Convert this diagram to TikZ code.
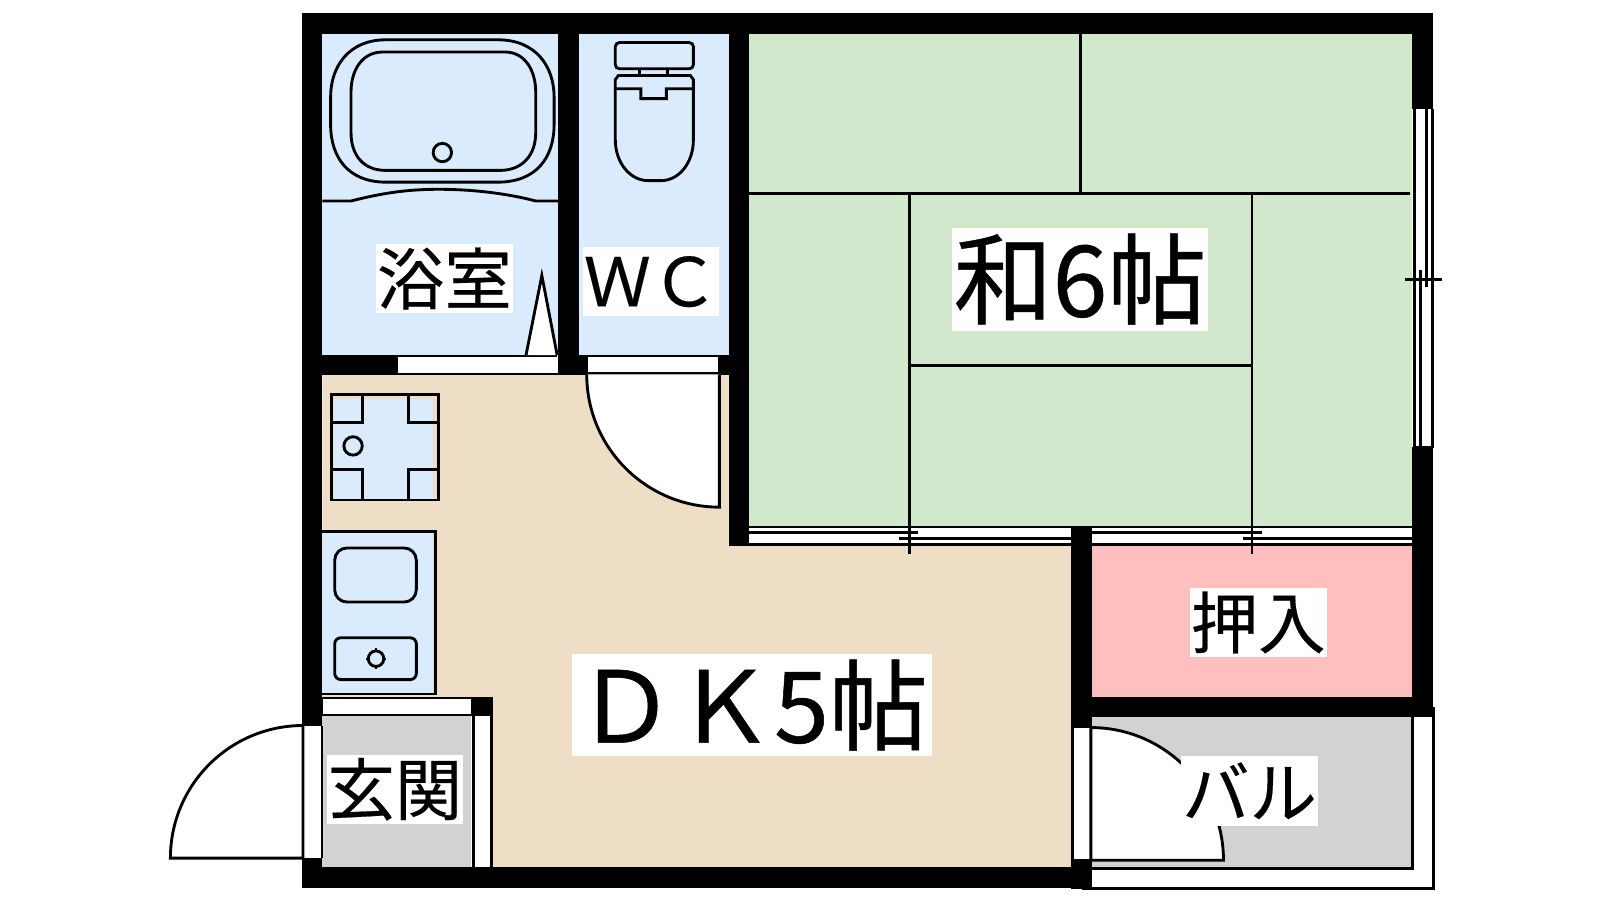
\documentclass[tikz,border=0pt]{standalone}
\usepackage{fontspec}
\setmainfont{Noto Sans CJK JP}
\newfontfamily\bigjp[FakeBold=0.5]{Noto Sans CJK JP}
\newfontfamily\smalljp[FakeBold=0.3]{Noto Sans CJK JP}
\tikzset{
  wall/.style={fill=black,draw=none},
  ln/.style={draw=black,line width=1.4pt},
  thin ln/.style={draw=black,line width=1pt},
  openw/.style={fill=white,draw=none},
  label big/.style={fill=white,inner sep=0pt,font=\bigjp\fontsize{48.5}{48.5}\selectfont},
  label small/.style={fill=white,inner sep=0pt,font=\smalljp\fontsize{33}{33}\selectfont},
}
\definecolor{bluef}{HTML}{DAEBFE}
\definecolor{greenf}{HTML}{D2E8CC}
\definecolor{tanf}{HTML}{EEDEC6}
\definecolor{pinkf}{HTML}{FFBFBF}
\definecolor{grayf}{HTML}{D2D2D2}
\begin{document}
\begin{tikzpicture}[x=0.5pt,y=-0.5pt]
\useasboundingbox (0,0) rectangle (1568,882);
\fill[white] (0,0) rectangle (1568,882);
% floors
\fill[bluef] (316,33) rectangle (547,348);
\fill[bluef] (567,33) rectangle (714,348);
\fill[greenf] (734,33) rectangle (1384,516);
\fill[tanf] (316,366) -- (714,366) -- (714,535) -- (1050,535) -- (1050,850) -- (316,850) -- cycle;
\fill[pinkf] (1070,535) rectangle (1384,683);
\fill[grayf] (1070,703) rectangle (1384,851);
\fill[grayf] (316,702) rectangle (462,850);
% tatami lines
\draw[ln] (734,190) -- (1382,190);
\draw[ln] (1059,33) -- (1059,190);
\draw[ln] (891,190) -- (891,543);
\draw[ln] (1227,190) -- (1227,543);
\draw[ln] (891,358) -- (1227,358);
% walls
\fill[wall] (296,13) rectangle (1404,33);
\fill[wall] (296,13) rectangle (316,870.5);
\fill[wall] (296,850) rectangle (1070,870.5);
\fill[wall] (547,33) rectangle (567,366);
\fill[wall] (714,33) rectangle (734,535);
\fill[wall] (316,348) rectangle (390,366);
\fill[wall] (547,348) rectangle (714,366);
\fill[wall] (1384,13) rectangle (1404,107);
\fill[wall] (1384,438) rectangle (1404,703);
\fill[wall] (1050,515) rectangle (1070,713);
\fill[wall] (1050,683) rectangle (1404,703);
\fill[wall] (1050,842) rectangle (1070,871);
% bath door opening
\fill[openw] (390,349.5) rectangle (546,365);
\draw[thin ln] (390,348.5) -- (546,348.5);
\draw[thin ln] (316,366.5) -- (576,366.5);
\draw[ln,fill=white] (515.5,348) -- (531,270) -- (546,348);
% wc door opening
\fill[openw] (576,349.5) rectangle (704,365);
\draw[thin ln] (576,366.5) -- (714,366.5);
% wc door
\draw[ln,fill=white] (575,367) .. controls (575,438.8) and (633.2,497) .. (705,497) -- (705,367);
% tub
\draw[ln] (378,39) -- (488,39) .. controls (525,39) and (543,65) .. (543,95) -- (543,122) .. controls (543,155) and (525,178.5) .. (488,178.5) -- (378,178.5) .. controls (342,178.5) and (324,155) .. (324,122) -- (324,95) .. controls (324,65) and (342,39) .. (378,39) -- cycle;
\draw[ln] (375,51) -- (495,51) .. controls (515,51) and (525,70) .. (525,90) -- (525,130) .. controls (525,152) and (512,167) .. (490,167) -- (378,167) .. controls (356,167) and (344,152) .. (344,130) -- (344,90) .. controls (344,70) and (354,51) .. (375,51) -- cycle;
\draw[ln] (433.5,149.5) circle[radius=4.5pt];
\draw[ln] (316,197) -- (344,197) .. controls (375,189) and (400,185.5) .. (430,185.5) .. controls (460,185.5) and (495,189) .. (525,197) -- (547,197);
% toilet
\draw[ln] (603,41.7) [rounded corners=2pt] rectangle (679.5,67.4);
\draw[ln] (627,67.4) -- (627,74);
\draw[ln] (654,67.4) -- (654,74);
\draw[ln] (603,87) -- (603,137) .. controls (603,160) and (618,177) .. (635,177) -- (648,177) .. controls (665,177) and (679.5,160) .. (679.5,137) -- (679.5,87);
\draw[ln] (603,87) -- (603,78) -- (606,74) -- (676.5,74) -- (679.5,78) -- (679.5,87) -- (653,87) -- (653,96.7) -- (628,96.7) -- (628,87) -- cycle;
% gas unit
\fill[bluef] (327,391) rectangle (424,489);
\draw[ln] (325,387) rectangle (429.5,490);
\draw[ln] (355,387) -- (355,414) -- (325,414);
\draw[ln] (400,387) -- (400,414) -- (429.5,414);
\draw[ln] (355,490) -- (355,460) -- (325,460);
\draw[ln] (400,490) -- (400,460) -- (429.5,460);
\draw[ln] (346,437) circle[radius=4.5pt];
% counter
\fill[bluef] (316,520) rectangle (424,680);
\draw[ln] (316,520.5) -- (427,520.5) -- (427,681);
\draw[thin ln] (316,680.5) -- (427,680.5);
\draw[ln] (328,537) [rounded corners=6pt] rectangle (408,590);
\draw[ln] (328,625) [rounded corners=3pt] rectangle (408,666);
\draw[ln] (368.5,645.5) circle[radius=3.8pt];
\draw[thin ln] (368.5,635.5) -- (368.5,638.5) (368.5,652.5) -- (368.5,655.5) (358.5,645.5) -- (361.5,645.5) (375.5,645.5) -- (378.5,645.5);
% entry partition
\fill[wall] (316,683) rectangle (483,702);
\fill[openw] (317,685.5) rectangle (462,700);
\fill[white] (462,702) rectangle (483,850);
\draw[ln] (464,702) -- (464,850);
\draw[ln] (482,702) -- (482,850);
% entry door
\fill[white] (297,711) rectangle (315,841);
\fill[wall] (296,841) rectangle (316,850);
\draw[ln,fill=white] (297,711) .. controls (225.2,711) and (167,769.2) .. (167,841) -- (297,841) -- cycle;
\draw[ln] (315.5,711) -- (315.5,841);
% balcony
\fill[white] (1384,703) rectangle (1405,871);
\fill[white] (1070,851) rectangle (1405,871);
\draw[ln] (1384.5,703) -- (1384.5,851) -- (1070,851);
\draw[ln] (1405,693) -- (1405,871) -- (1060,871);
\fill[white] (1051.5,713) rectangle (1069,842);
\draw[ln,fill=white] (1069,713) .. controls (1140.8,713) and (1199,771.2) .. (1199,843) -- (1069,843) -- cycle;
\draw[ln] (1051,713) -- (1051,842);
% sliding doors to tatami
\fill[white] (734,516) rectangle (1050,535);
\fill[white] (1070,516) rectangle (1384,535);
\draw[ln] (734,516.5) -- (1050,516.5);
\draw[ln] (734,534) -- (1050,534);
\draw[ln] (734,522) -- (900,522);
\draw[ln] (881,528) -- (1050,528);
\draw[ln] (1070,516.5) -- (1384,516.5);
\draw[ln] (1070,534) -- (1384,534);
\draw[ln] (1070,522) -- (1237,522);
\draw[ln] (1218,528) -- (1384,528);
\draw[ln] (891,510) -- (891,543);
\draw[ln] (1227,510) -- (1227,543);
% right window
\fill[white] (1386,107) rectangle (1404,438);
\draw[ln] (1386,107) -- (1386,438);
\draw[ln] (1403.5,107) -- (1403.5,438) -- (1386,438);
\draw[ln] (1398,107) -- (1398,281.5);
\draw[ln] (1392,265) -- (1392,438);
\draw[ln] (1377,273.5) -- (1413,273.5);
% labels
\node[label big,minimum width=125.5pt,minimum height=50.5pt] (washitsu) at (1058.5,273.5) {和6帖};
\node[label big,minimum width=176pt,minimum height=50pt] (dk) at (737,691) {ＤＫ5帖};
\node[label small,minimum width=67pt,minimum height=34pt] (bath) at (435.5,273) {浴室};
\node[label small,minimum width=67pt,minimum height=33.5pt] (wc) at (638,276) {ＷＣ};
\node[label small,minimum width=67pt,minimum height=34pt] (oshi) at (1233,610) {押入};
\node[label small,minimum width=67pt,minimum height=34pt] (genkan) at (387,773.5) {玄関};
\node[label small,minimum width=67.5pt,minimum height=34pt] (bal) at (1224.5,775) {バル};
\end{tikzpicture}
\end{document}
